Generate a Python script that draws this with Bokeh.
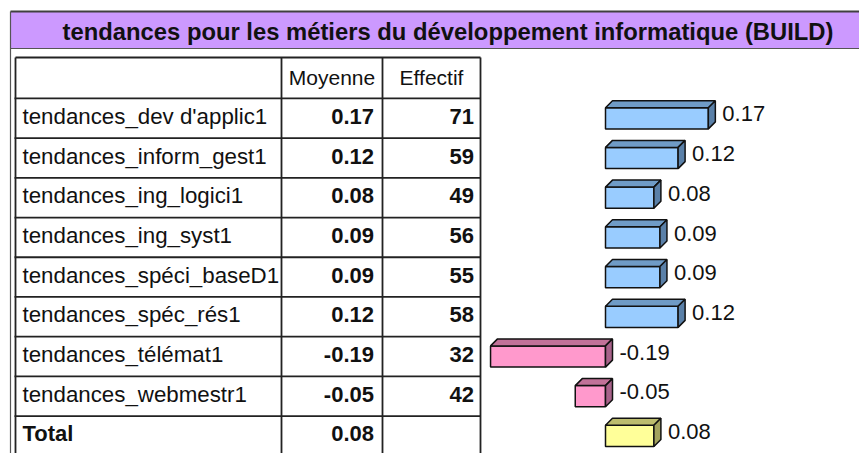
from bokeh.plotting import figure
from bokeh.models import Range1d
from bokeh.embed import file_html
from bokeh.resources import INLINE
from bokeh.core.properties import value

# ---- data ----
title = "tendances pour les métiers du développement informatique (BUILD)"
col_headers = ["Moyenne", "Effectif"]
labels = ["tendances_dev d'applic1", "tendances_inform_gest1", "tendances_ing_logici1",
          "tendances_ing_syst1", "tendances_spéci_baseD1", "tendances_spéc_rés1",
          "tendances_télémat1", "tendances_webmestr1", "Total"]
moyennes = [0.17, 0.12, 0.08, 0.09, 0.09, 0.12, -0.19, -0.05, 0.08]
effectifs = [71, 59, 49, 56, 55, 58, 32, 42, None]

# ---- layout constants (page pixels) ----
W, H = 859, 453
ZERO_PX = 605.0      # zero of the value axis
PX_PER_UNIT = 605.0
ROW0 = 117.8         # centre of first row
ROW_H = 39.7
FONT = value("Liberation Sans")

p = figure(width=W, height=H, x_range=Range1d(0, W), y_range=Range1d(H, 0),
           output_backend="svg", toolbar_location=None, min_border=0)
p.axis.visible = False
p.grid.visible = False
p.outline_line_color = None
p.background_fill_color = "white"
p.border_fill_color = "white"

p.extra_x_ranges = {"val": Range1d(-ZERO_PX / PX_PER_UNIT, (W - ZERO_PX) / PX_PER_UNIT)}
p.extra_y_ranges = {"row": Range1d((H - ROW0) / ROW_H, -ROW0 / ROW_H)}

# ---- frame and header band ----
p.quad(left=10, right=W + 5, top=11, bottom=48, fill_color="#CC99FF", line_color=None)
p.segment(x0=10, y0=11, x1=W + 5, y1=11, line_color="#404040", line_width=2)
p.segment(x0=10, y0=48, x1=W + 5, y1=48, line_color="#555555", line_width=1)
p.segment(x0=10, y0=11, x1=10, y1=H + 5, line_color="#555555", line_width=1.2)
p.text(x=[447.5], y=[31], text=[title], text_align="center", text_baseline="middle",
       text_font=FONT, text_font_style="bold", text_font_size="23.8px", text_color="#111111")

# ---- table ----
n = len(labels)
rows = list(range(n))
line_col = "#222222"
for xv in [15, 281, 382, 480]:
    p.segment(x0=xv, y0=57, x1=xv, y1=H + 5, line_color=line_col, line_width=1.8)
p.segment(x0=15, y0=57, x1=480, y1=57, line_color=line_col, line_width=1.8)
bounds = [r - 0.5 for r in range(n + 1)]
p.segment(x0=[14] * len(bounds), x1=[480] * len(bounds), y0=bounds, y1=bounds,
          y_range_name="row", line_color=line_col, line_width=1.8)
p.text(x=[331.5, 431], y=[77, 77], text=col_headers, text_align="center",
       text_baseline="middle", text_font=FONT, text_font_size="21px", text_color="#111111")

lab_y = [r - 0.05 for r in rows]
reg_idx = [i for i in rows if labels[i] != "Total"]
tot_idx = [i for i in rows if labels[i] == "Total"]
p.text(x=[22] * len(reg_idx), y=[lab_y[i] for i in reg_idx], text=[labels[i] for i in reg_idx],
       y_range_name="row", text_align="left", text_baseline="middle",
       text_font=FONT, text_font_size="22.3px", text_color="#111111")
p.text(x=[22] * len(tot_idx), y=[lab_y[i] for i in tot_idx], text=[labels[i] for i in tot_idx],
       y_range_name="row", text_align="left", text_baseline="middle",
       text_font=FONT, text_font_style="bold", text_font_size="22px", text_color="#111111")
p.text(x=[373.5] * n, y=lab_y, text=[f"{v:.2f}" for v in moyennes],
       y_range_name="row", text_align="right", text_baseline="middle",
       text_font=FONT, text_font_style="bold", text_font_size="22px", text_color="#111111")
p.text(x=[473.5] * n, y=lab_y, text=["" if e is None else str(e) for e in effectifs],
       y_range_name="row", text_align="right", text_baseline="middle",
       text_font=FONT, text_font_style="bold", text_font_size="22px", text_color="#111111")

# ---- 3D bars ----
dx = 7.0 / PX_PER_UNIT
dy = 7.0 / ROW_H
hh = 10.6 / ROW_H
gap = 7.0 / PX_PER_UNIT

fronts = {"pos": ("#99CCFF", "#6F9BC6", "#5A80A8"),
          "neg": ("#FF99CC", "#C27299", "#A8628A"),
          "tot": ("#FFFF99", "#BDBD6E", "#A3A35E")}

for i, v in enumerate(moyennes):
    kind = "tot" if labels[i] == "Total" else ("neg" if v < 0 else "pos")
    cf, ct, cs = fronts[kind]
    left, right = min(0.0, v), max(0.0, v)
    top, bot = i - hh, i + hh
    p.quad(left=[left], right=[right], top=[top], bottom=[bot], x_range_name="val",
           y_range_name="row", fill_color=cf, line_color="#111111", line_width=1.5)
    p.patch(x=[left, left + dx, right + dx, right], y=[top, top - dy, top - dy, top],
            x_range_name="val", y_range_name="row", fill_color=ct,
            line_color="#111111", line_width=1.5)
    p.patch(x=[right, right + dx, right + dx, right], y=[top, top - dy, bot - dy, bot],
            x_range_name="val", y_range_name="row", fill_color=cs,
            line_color="#111111", line_width=1.5)

p.text(x=[max(0.0, v) + dx + gap for v in moyennes], y=[r - 0.11 for r in rows],
       text=[f"{v:.2f}" for v in moyennes], x_range_name="val", y_range_name="row",
       text_align="left", text_baseline="middle", text_font=FONT,
       text_font_size="22px", text_color="#111111")

open("out.html", "w").write(file_html(p, INLINE))
